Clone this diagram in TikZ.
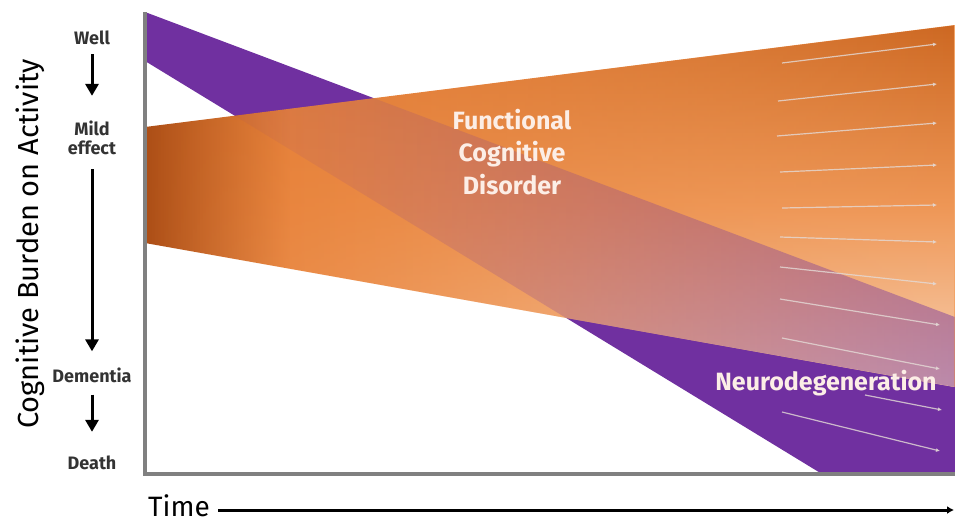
\documentclass[tikz,border=0pt]{standalone}
\usepackage{fontspec}
\setmainfont{Fira Sans}
\usetikzlibrary{arrows.meta,fadings}

\definecolor{ndpurple}{HTML}{7030A0}
\definecolor{fcddark}{HTML}{AC4E16}
\definecolor{fcdtop}{HTML}{CD6822}
\definecolor{fcdmid}{HTML}{E8823A}
\definecolor{fcdlight}{HTML}{F2A468}
\definecolor{fcdbot}{HTML}{FAD4B6}
\definecolor{axisgray}{HTML}{808080}
\definecolor{flowgray}{HTML}{E4DAD6}
\definecolor{labeltext}{HTML}{FCEEE6}
\pgfdeclarehorizontalshading{fcdbase}{100bp}{color(0bp)=(fcddark); color(25bp)=(fcddark);
  color(34bp)=(fcdmid); color(50bp)=(fcdmid!70!fcdlight); color(75bp)=(fcdlight); color(100bp)=(fcdlight)}
\tikzfading[name=fcdright, left color=transparent!100, middle color=transparent!60, right color=transparent!0]
\tikzfading[name=ndfade, left color=transparent!100, middle color=transparent!88, right color=transparent!55]

\begin{document}
\begin{tikzpicture}[x=1pt,y=-1pt,
    level/.style={font=\bfseries\fontsize{18}{19}\selectfont,text=black!80,align=center,inner sep=1pt},
    levelarrow/.style={line width=3pt,-{Triangle[width=13pt,length=12pt]}},
    bandlabel/.style={font=\bfseries\fontsize{25}{32.5}\selectfont,text=labeltext,align=center},
    flowline/.style={flowgray,line width=1.2pt,opacity=0.8,-{Latex[length=4pt,width=4pt]}}]
  \useasboundingbox (0,0) rectangle (955,523);

  % the two bands
  \fill[ndpurple] (145,12) -- (955,317) -- (955,474) -- (822,474) -- (145,61) -- cycle;
  \shade[shading=fcdbase] (145,127) -- (955,25) -- (955,387) -- (145,243) -- cycle;
  \shade[top color=fcdtop,bottom color=fcdbot,middle color=fcdlight!60!fcdmid,path fading=fcdright]
    (145,127) -- (955,25) -- (955,387) -- (145,243) -- cycle;
  \begin{scope}
    \clip (145,127) -- (955,25) -- (955,387) -- (145,243) -- cycle;
    \fill[ndpurple,path fading=ndfade] (145,12) -- (955,317) -- (955,474) -- (822,474) -- (145,61) -- cycle;
  \end{scope}

  % time flow lines
  \foreach \sx/\sy/\ex/\ey [count=\i] in {782/63/937/44, 778/101/937/84, 777/136/937/123,
      780/172/937/165, 782/208/937/205, 780/237/937/242, 780/267/937/284, 780/299/940/325,
      782/338/940/369, 865/395/942/410, 782/412/940/451}{
    \coordinate (fs\i) at (\sx,\sy);
    \coordinate (fe\i) at (\ex,\ey);
    \draw[flowline] (fs\i) -- (fe\i);
  }

  % axes
  \draw[axisgray,line width=4.5pt,line join=miter] (145,12) -- (145,474) -- (955,474);

  \node[bandlabel] (fcd) at (512,152) {Functional\\Cognitive\\Disorder};
  \node[bandlabel] (nd) at (826,383) {Neurodegeneration};

  % y axis scale
  \node[rotate=90,font=\fontsize{29}{29}\selectfont] (burden) at (30,244) {Cognitive Burden on Activity};
  \node[level] (well) at (92,38) {Well};
  \node[level] (mild) at (92,138) {Mild\\effect};
  \node[level] (dementia) at (92,375) {Dementia};
  \node[level] (death) at (92,463) {Death};
  \draw[levelarrow,shorten <=8pt,shorten >=24pt] (well) -- (mild);
  \draw[levelarrow,shorten <=13pt,shorten >=15pt] (mild) -- (dementia);
  \draw[levelarrow,shorten <=11pt,shorten >=23pt] (dementia) -- (death);

  % x axis
  \node[font=\fontsize{28}{28}\selectfont,anchor=west,inner sep=0pt] (time) at (148,506) {Time};
  \coordinate (timeend) at (954,510);
  \draw[line width=3pt,-{Latex[length=7pt,width=8pt]}] ([xshift=8pt]time.east |- timeend) -- (timeend);
\end{tikzpicture}
\end{document}
